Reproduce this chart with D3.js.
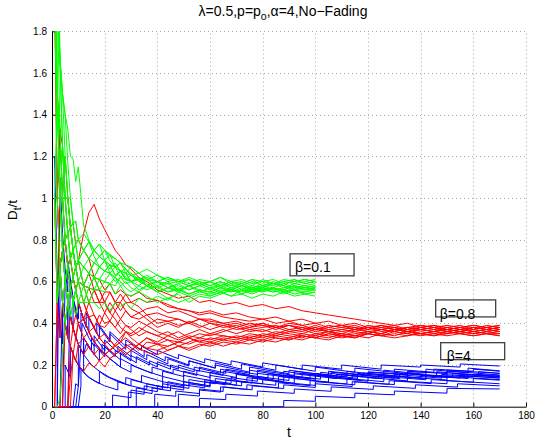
<!DOCTYPE html>
<html><head><meta charset="utf-8">
<script src="https://cdn.jsdelivr.net/npm/d3@7"></script>
<style>body{margin:0;background:#fff}svg{display:block}text{font-family:"Liberation Sans",Arial,Helvetica,sans-serif}</style>
</head><body><svg id="c" width="535" height="443"></svg>
<script>
// ---------- axis ticks ----------
const xTicks = [0,20,40,60,80,100,120,140,160,180];
const xTickLabels = ["0","20","40","60","80","100","120","140","160","180"];
const yTicks = [0,0.2,0.4,0.6,0.8,1,1.2,1.4,1.6,1.8];
const yTickLabels = ["0","0.2","0.4","0.6","0.8","1","1.2","1.4","1.6","1.8"];

// ---------- beta = 0.1 (green), sampled at tGreen ----------
const tGreen = [1,2,3,4,5,6,7,8,9,10, 12,14,16,18,20,22,24,26,28,30, 33,36, 40,44,48,52,56,60,64,68,72,76,80,84,88,92,96,100];
const green = [
 [3.0,2.0,1.67,1.5,1.4,1.33,1.2,1.19,1.08,1.15, 0.87,0.8,0.75,0.72,0.7,0.68,0.67,0.65,0.66,0.63, 0.61,0.62, 0.6,0.59,0.6,0.58,0.59,0.57,0.58,0.56,0.58,0.57,0.58,0.56,0.57,0.58,0.56,0.57],
 [2.0,1.5,1.0,1.25,1.0,0.83,0.71,0.75,0.67,0.7, 0.67,0.64,0.69,0.67,0.65,0.68,0.63,0.65,0.61,0.6, 0.62,0.58, 0.6,0.57,0.59,0.61,0.58,0.6,0.62,0.59,0.6,0.58,0.61,0.59,0.6,0.61,0.59,0.6],
 [3.0,1.5,1.33,1.0,0.8,0.83,0.86,0.75,0.78,0.7, 0.75,0.71,0.69,0.72,0.75,0.7,0.67,0.69,0.64,0.63, 0.6,0.61, 0.58,0.6,0.56,0.58,0.55,0.57,0.55,0.57,0.54,0.56,0.55,0.57,0.55,0.56,0.54,0.55],
 [1.0,0.5,0.67,0.5,0.6,0.5,0.57,0.5,0.56,0.5, 0.58,0.5,0.5,0.47,0.5,0.46,0.5,0.48,0.5,0.47, 0.52,0.5, 0.53,0.51,0.55,0.53,0.55,0.54,0.56,0.55,0.57,0.55,0.56,0.57,0.55,0.56,0.54,0.55],
 [0,0,0.04,0.25,0.4,0.5,0.43,0.5,0.56,0.6, 0.58,0.64,0.62,0.67,0.65,0.68,0.63,0.65,0.61,0.63, 0.6,0.58, 0.6,0.57,0.58,0.56,0.58,0.6,0.57,0.59,0.56,0.58,0.57,0.59,0.58,0.56,0.57,0.58],
 [4.0,2.0,1.67,1.5,1.2,1.0,1.0,0.88,0.89,0.8, 0.75,0.79,0.72,0.67,0.7,0.64,0.67,0.62,0.64,0.6, 0.58,0.61, 0.57,0.55,0.57,0.54,0.56,0.53,0.55,0.53,0.54,0.52,0.54,0.53,0.55,0.53,0.54,0.53],
 [2.0,1.0,1.0,0.75,0.8,0.67,0.71,0.62,0.67,0.6, 0.67,0.71,0.75,0.72,0.7,0.73,0.67,0.69,0.66,0.63, 0.64,0.61, 0.63,0.6,0.61,0.59,0.61,0.6,0.62,0.6,0.61,0.59,0.6,0.61,0.59,0.6,0.61,0.6],
 [3.0,2.0,1.33,1.0,1.0,0.83,0.71,0.75,0.67,0.6, 0.58,0.57,0.62,0.61,0.65,0.64,0.6,0.62,0.59,0.6, 0.56,0.58, 0.55,0.52,0.54,0.5,0.53,0.52,0.54,0.56,0.54,0.57,0.55,0.57,0.56,0.58,0.57,0.58],
 [2.0,1.5,1.0,1.0,0.8,0.83,0.71,0.75,0.78,0.8, 0.75,0.71,0.75,0.78,0.75,0.72,0.71,0.69,0.68,0.67, 0.64,0.66, 0.63,0.61,0.6,0.62,0.6,0.58,0.6,0.58,0.59,0.57,0.59,0.58,0.6,0.59,0.6,0.61],
 [1.0,0.5,0.67,0.75,0.6,0.67,0.57,0.62,0.56,0.6, 0.5,0.57,0.56,0.61,0.6,0.64,0.62,0.58,0.6,0.57, 0.55,0.58, 0.55,0.57,0.59,0.56,0.58,0.56,0.58,0.6,0.58,0.6,0.58,0.59,0.57,0.59,0.58,0.59],
 [5.0,2.5,1.67,1.25,1.0,0.83,0.86,0.75,0.67,0.7, 0.67,0.64,0.62,0.67,0.65,0.64,0.62,0.65,0.62,0.6, 0.61,0.58, 0.57,0.59,0.56,0.58,0.6,0.58,0.6,0.57,0.59,0.61,0.58,0.6,0.58,0.61,0.59,0.6],
 [2.0,1.5,1.0,0.75,0.6,0.5,0.57,0.62,0.67,0.7, 0.67,0.64,0.69,0.67,0.7,0.66,0.69,0.65,0.64,0.6, 0.62,0.59, 0.55,0.57,0.55,0.58,0.56,0.55,0.57,0.55,0.56,0.54,0.56,0.55,0.56,0.54,0.55,0.56],
 [3.0,1.5,1.0,1.0,1.2,1.0,0.86,0.88,0.78,0.7, 0.75,0.79,0.75,0.72,0.75,0.73,0.71,0.69,0.66,0.64, 0.61,0.63, 0.6,0.62,0.6,0.58,0.59,0.57,0.59,0.57,0.58,0.56,0.58,0.57,0.59,0.57,0.58,0.57],
 [1.0,1.0,0.67,0.5,0.4,0.5,0.43,0.5,0.44,0.5, 0.5,0.5,0.56,0.56,0.55,0.59,0.58,0.62,0.61,0.6, 0.61,0.58, 0.6,0.57,0.56,0.54,0.56,0.55,0.57,0.56,0.58,0.56,0.57,0.55,0.56,0.58,0.57,0.56],
 [2.0,2.0,1.67,1.25,1.0,1.0,0.86,0.75,0.67,0.7, 0.58,0.64,0.62,0.61,0.6,0.59,0.62,0.6,0.57,0.55, 0.58,0.56, 0.58,0.55,0.56,0.54,0.56,0.55,0.54,0.56,0.55,0.57,0.56,0.57,0.55,0.57,0.56,0.57],
 [4.0,2.5,1.67,1.5,1.4,1.17,1.0,0.88,0.89,0.8, 0.83,0.79,0.75,0.78,0.7,0.68,0.67,0.65,0.64,0.67, 0.64,0.61, 0.6,0.62,0.6,0.61,0.59,0.6,0.58,0.6,0.59,0.61,0.6,0.59,0.61,0.6,0.61,0.6],
 [1.0,1.5,1.0,0.75,0.6,0.67,0.57,0.5,0.56,0.5, 0.5,0.57,0.62,0.56,0.6,0.59,0.54,0.58,0.54,0.53, 0.55,0.53, 0.5,0.52,0.5,0.52,0.54,0.53,0.55,0.53,0.56,0.55,0.57,0.56,0.54,0.56,0.55,0.57]
];

// ---------- beta = 0.8 (red), sampled at tRed ----------
const tRed = [1,2,3,4,5,6,7,8,9,10, 12,14,16,18,20,22,24,26,28,30, 33,36,40,44,48,52,56,60,
  65,70,75,80,85,90,95,100,105,110,115,120,125,130,135,140,145,150,155,160,165,170];
const red = [
 [0,0.5,0.33,0.5,0.4,0.5,0.57,0.62,0.67,0.7, 0.83,0.93,0.97,0.9,0.85,0.8,0.75,0.72,0.68,0.66, 0.62,0.6,0.56,0.54,0.52,0.53,0.5,0.51, 0.49,0.5,0.48,0.49,0.47,0.48,0.46,0.45,0.44,0.43,0.42,0.41,0.4,0.39,0.4,0.38,0.39,0.38,0.39,0.37,0.38,0.37],
 [2.0,1.5,1.0,1.0,0.8,0.83,0.71,0.75,0.67,0.7, 0.67,0.64,0.62,0.61,0.56,0.59,0.54,0.56,0.54,0.53, 0.55,0.52,0.51,0.49,0.47,0.46,0.45,0.46, 0.44,0.45,0.43,0.42,0.43,0.41,0.42,0.4,0.41,0.39,0.4,0.38,0.39,0.37,0.38,0.37,0.38,0.36,0.37,0.38,0.37,0.38],
 [2.0,1.0,1.33,1.0,1.2,1.0,0.86,0.88,0.78,0.8, 0.75,0.71,0.62,0.56,0.5,0.55,0.5,0.46,0.5,0.47, 0.45,0.47,0.48,0.45,0.46,0.44,0.42,0.42, 0.4,0.41,0.39,0.4,0.38,0.39,0.37,0.38,0.36,0.37,0.38,0.36,0.37,0.38,0.36,0.37,0.36,0.37,0.38,0.36,0.37,0.36],
 [0,0,0,0,0.4,0.5,0.57,0.5,0.44,0.5, 0.42,0.5,0.44,0.39,0.45,0.41,0.38,0.42,0.39,0.37, 0.34,0.36,0.34,0.36,0.33,0.35,0.37,0.35, 0.37,0.35,0.37,0.36,0.38,0.36,0.37,0.35,0.36,0.34,0.35,0.36,0.35,0.37,0.36,0.35,0.36,0.35,0.36,0.35,0.36,0.35],
 [0,0,0,0,0,0,0.29,0.38,0.33,0.3, 0.25,0.29,0.25,0.22,0.19,0.23,0.25,0.27,0.25,0.27, 0.3,0.28,0.27,0.29,0.31,0.3,0.32,0.31, 0.33,0.32,0.34,0.33,0.35,0.34,0.33,0.35,0.34,0.33,0.34,0.35,0.34,0.35,0.34,0.36,0.35,0.34,0.35,0.36,0.35,0.35],
 [0,0,0,0,0,0,0,0.25,0.33,0.4, 0.42,0.36,0.31,0.33,0.3,0.32,0.29,0.31,0.33,0.31, 0.28,0.26,0.25,0.27,0.29,0.28,0.3,0.29, 0.31,0.3,0.32,0.31,0.33,0.32,0.34,0.33,0.35,0.34,0.33,0.35,0.34,0.36,0.35,0.34,0.35,0.36,0.35,0.34,0.35,0.34],
 [1.0,1.0,1.0,1.0,1.0,0.83,0.86,0.75,0.67,0.6, 0.58,0.5,0.56,0.5,0.45,0.5,0.46,0.5,0.46,0.43, 0.45,0.42,0.38,0.4,0.38,0.41,0.39,0.37, 0.39,0.37,0.38,0.4,0.38,0.39,0.37,0.39,0.37,0.38,0.39,0.37,0.38,0.39,0.37,0.38,0.39,0.37,0.38,0.39,0.38,0.39],
 [1.0,0.5,0.67,0.75,0.6,0.67,0.57,0.62,0.56,0.6, 0.5,0.43,0.38,0.33,0.35,0.32,0.29,0.31,0.36,0.34, 0.36,0.39,0.36,0.34,0.36,0.33,0.35,0.34, 0.36,0.38,0.36,0.37,0.35,0.37,0.36,0.38,0.36,0.37,0.36,0.38,0.37,0.36,0.38,0.37,0.38,0.37,0.36,0.37,0.38,0.37],
 [2.0,1.0,0.67,0.5,0.6,0.5,0.43,0.38,0.44,0.4, 0.33,0.36,0.31,0.28,0.25,0.27,0.3,0.33,0.36,0.35, 0.38,0.36,0.34,0.32,0.31,0.33,0.31,0.33, 0.32,0.34,0.33,0.35,0.34,0.36,0.35,0.37,0.36,0.35,0.37,0.36,0.35,0.37,0.36,0.37,0.36,0.38,0.37,0.36,0.37,0.36],
 [1.0,1.0,1.33,1.25,1.0,1.0,0.86,0.75,0.67,0.7, 0.58,0.57,0.5,0.5,0.5,0.45,0.5,0.54,0.5,0.5, 0.52,0.5,0.51,0.48,0.47,0.46,0.44,0.45, 0.43,0.42,0.41,0.42,0.4,0.41,0.39,0.4,0.38,0.39,0.37,0.38,0.37,0.38,0.37,0.38,0.37,0.38,0.37,0.38,0.37,0.38],
 [0,0,0,0,0,0,0.14,0.25,0.22,0.3, 0.33,0.29,0.25,0.28,0.25,0.27,0.25,0.27,0.29,0.27, 0.3,0.33,0.31,0.34,0.32,0.34,0.33,0.35, 0.34,0.33,0.35,0.34,0.36,0.35,0.34,0.33,0.35,0.34,0.36,0.35,0.37,0.36,0.35,0.37,0.36,0.37,0.36,0.38,0.37,0.38],
 [1.0,0.5,1.0,0.75,0.8,0.67,0.71,0.62,0.56,0.5, 0.5,0.43,0.44,0.39,0.38,0.41,0.38,0.35,0.39,0.38, 0.41,0.39,0.42,0.41,0.42,0.4,0.42,0.41, 0.4,0.38,0.4,0.39,0.37,0.39,0.38,0.37,0.39,0.38,0.37,0.39,0.38,0.37,0.38,0.39,0.38,0.39,0.38,0.37,0.39,0.38],
 [1.0,1.0,0.67,0.5,0.4,0.33,0.29,0.25,0.22,0.2, 0.17,0.21,0.19,0.22,0.25,0.23,0.25,0.27,0.25,0.27, 0.3,0.28,0.3,0.29,0.31,0.33,0.31,0.3, 0.32,0.31,0.33,0.32,0.34,0.33,0.35,0.34,0.36,0.35,0.34,0.36,0.35,0.37,0.36,0.35,0.36,0.37,0.36,0.35,0.36,0.37],
 [2.0,1.5,1.33,1.0,0.8,0.67,0.57,0.62,0.56,0.6, 0.58,0.57,0.56,0.5,0.55,0.55,0.5,0.5,0.54,0.5, 0.48,0.44,0.45,0.43,0.42,0.4,0.38,0.4, 0.38,0.39,0.37,0.38,0.39,0.37,0.38,0.36,0.37,0.36,0.37,0.38,0.36,0.37,0.36,0.38,0.37,0.36,0.37,0.36,0.37,0.36],
 [0,0,0,0.25,0.4,0.33,0.43,0.38,0.33,0.4, 0.42,0.36,0.38,0.33,0.3,0.27,0.29,0.27,0.29,0.3, 0.27,0.31,0.3,0.32,0.29,0.31,0.33,0.32, 0.34,0.33,0.32,0.34,0.33,0.32,0.34,0.33,0.32,0.34,0.33,0.35,0.34,0.33,0.34,0.35,0.34,0.36,0.35,0.34,0.35,0.34],
 [1.0,1.0,0.67,0.75,0.8,0.67,0.57,0.5,0.56,0.5, 0.42,0.43,0.38,0.44,0.4,0.41,0.46,0.42,0.46,0.43, 0.42,0.44,0.4,0.41,0.39,0.4,0.42,0.4, 0.39,0.4,0.38,0.39,0.38,0.4,0.39,0.37,0.38,0.39,0.38,0.37,0.39,0.38,0.37,0.39,0.38,0.37,0.38,0.39,0.38,0.39],
 [0,0.5,0.67,0.75,0.6,0.67,0.71,0.62,0.67,0.6, 0.58,0.64,0.56,0.56,0.5,0.45,0.42,0.38,0.36,0.33, 0.3,0.33,0.3,0.27,0.29,0.27,0.29,0.31, 0.29,0.31,0.3,0.32,0.31,0.33,0.32,0.34,0.33,0.35,0.34,0.33,0.35,0.34,0.36,0.35,0.34,0.35,0.36,0.35,0.36,0.35]
];

// ---------- beta = 4 (blue), [t, D_t/t] points (steps) ----------
const blue = [
 [[1,1.2],[2,0.6],[3,0.4],[4,0.3],[4,0.5],[5,0.4],[6,0.33],[6,0.5],[8,0.375],[8,0.5],[10,0.4],[11,0.36],[11,0.45],[14,0.36],[14,0.43],[18,0.33],[18,0.39],[22,0.32],[22,0.36],[28,0.29],[28,0.32],[34,0.27],[34,0.29],[40,0.25],[40,0.27],[48,0.23],[48,0.25],[58,0.21],[58,0.23],[68,0.2],[68,0.22],[80,0.19],[80,0.21],[95,0.18],[95,0.2],[110,0.18],[110,0.2],[125,0.18],[125,0.2],[140,0.19],[140,0.2],[155,0.19],[155,0.205],[170,0.195]],
 [[1,0],[9,0],[10,0.1],[11.5,0.4],[14,0.33],[16,0.29],[16,0.34],[20,0.27],[20,0.32],[25,0.26],[25,0.29],[30,0.24],[30,0.27],[36,0.225],[36,0.25],[44,0.205],[44,0.23],[52,0.195],[52,0.22],[62,0.185],[62,0.21],[72,0.18],[72,0.205],[85,0.175],[85,0.2],[100,0.17],[100,0.19],[115,0.165],[115,0.185],[130,0.165],[130,0.18],[145,0.165],[145,0.18],[160,0.17],[160,0.18],[170,0.17]],
 [[1,0],[2,0],[3,1.1],[4,0.83],[5,0.66],[6,0.55],[6,0.7],[8,0.52],[10,0.42],[10,0.5],[13,0.38],[13,0.45],[17,0.35],[17,0.4],[22,0.31],[22,0.35],[28,0.275],[28,0.3],[35,0.24],[35,0.27],[43,0.22],[43,0.24],[52,0.2],[52,0.22],[62,0.185],[62,0.2],[75,0.166],[75,0.19],[90,0.158],[90,0.175],[105,0.15],[105,0.17],[120,0.15],[120,0.165],[135,0.153],[135,0.168],[150,0.16],[150,0.172],[170,0.152]],
 [[1,0],[4,0],[5,0.6],[6,0.5],[8,0.375],[10,0.3],[12,0.25],[15,0.2],[20,0.15],[25,0.12],[30,0.1],[30,0.13],[36,0.11],[42,0.093],[42,0.12],[50,0.1],[50,0.12],[60,0.1],[60,0.12],[72,0.1],[72,0.12],[85,0.103],[85,0.12],[100,0.102],[100,0.12],[115,0.105],[115,0.12],[130,0.106],[130,0.125],[150,0.11],[150,0.125],[170,0.11]],
 [[1,0],[6,0],[7,0.6],[8,0.52],[10,0.42],[10,0.5],[12,0.42],[15,0.33],[18,0.28],[22,0.23],[26,0.19],[30,0.165],[30,0.2],[36,0.17],[42,0.145],[42,0.17],[50,0.145],[50,0.17],[60,0.14],[60,0.165],[70,0.14],[70,0.16],[82,0.138],[82,0.158],[95,0.14],[95,0.16],[110,0.138],[110,0.155],[125,0.136],[125,0.152],[140,0.136],[140,0.15],[155,0.137],[155,0.15],[170,0.138]],
 [[1,0],[8,0],[9,0.11],[10,0.1],[10,0.2],[12,0.17],[12,0.25],[13,0.3],[16,0.25],[16,0.3],[20,0.24],[20,0.29],[26,0.225],[26,0.26],[32,0.21],[32,0.24],[40,0.19],[40,0.215],[48,0.18],[48,0.2],[56,0.17],[56,0.19],[66,0.16],[66,0.18],[78,0.155],[78,0.175],[92,0.15],[92,0.17],[106,0.148],[106,0.165],[120,0.15],[120,0.167],[135,0.155],[135,0.17],[150,0.16],[150,0.175],[170,0.16]],
 [[1,0],[23,0],[23,0.056],[30,0.043],[30,0.08],[38,0.063],[38,0.09],[45,0.076],[45,0.1],[52,0.088],[52,0.11],[60,0.095],[60,0.12],[70,0.103],[70,0.125],[80,0.11],[80,0.13],[92,0.113],[92,0.135],[105,0.118],[105,0.14],[120,0.122],[120,0.14],[135,0.124],[135,0.142],[150,0.128],[150,0.145],[170,0.13]],
 [[1,0],[29,0],[29,0.07],[35,0.06],[35,0.1],[42,0.083],[42,0.11],[50,0.093],[50,0.12],[58,0.103],[58,0.13],[68,0.111],[68,0.14],[78,0.122],[78,0.145],[90,0.126],[90,0.15],[102,0.132],[102,0.155],[116,0.136],[116,0.16],[130,0.143],[130,0.165],[146,0.147],[146,0.168],[162,0.15],[162,0.168],[170,0.16]],
 [[1,0],[32,0],[32,0.09],[40,0.072],[40,0.1],[50,0.08],[50,0.105],[58,0.09],[58,0.12],[66,0.105],[66,0.13],[76,0.113],[76,0.14],[88,0.121],[88,0.15],[100,0.132],[100,0.16],[112,0.143],[112,0.17],[126,0.151],[126,0.175],[142,0.155],[142,0.18],[158,0.162],[158,0.185],[170,0.172]],
 [[1,0],[39,0],[39,0.06],[47,0.05],[47,0.075],[56,0.063],[56,0.085],[65,0.073],[65,0.095],[76,0.081],[76,0.1],[88,0.087],[88,0.105],[100,0.092],[100,0.11],[114,0.097],[114,0.12],[128,0.107],[128,0.125],[144,0.111],[144,0.13],[160,0.117],[160,0.135],[170,0.127]],
 [[1,0],[48,0],[48,0.06],[56,0.051],[56,0.08],[64,0.07],[64,0.095],[74,0.082],[74,0.105],[86,0.09],[86,0.115],[98,0.101],[98,0.125],[112,0.109],[112,0.135],[126,0.12],[126,0.145],[142,0.129],[142,0.15],[158,0.135],[158,0.155],[170,0.145]],
 [[1,0],[56,0],[56,0.04],[66,0.034],[66,0.06],[78,0.051],[78,0.075],[92,0.064],[92,0.085],[106,0.074],[106,0.095],[122,0.083],[122,0.1],[138,0.088],[138,0.105],[154,0.094],[154,0.11],[170,0.1]],
 [[1,0],[88,0],[88,0.03],[100,0.026],[100,0.05],[115,0.043],[115,0.065],[130,0.057],[130,0.075],[150,0.065],[150,0.088],[170,0.085]],
 [[1,0],[3,0],[4,0.5],[5,0.4],[6,0.33],[6,0.5],[8,0.375],[10,0.3],[12,0.25],[12,0.33],[15,0.27],[18,0.22],[18,0.28],[22,0.23],[26,0.19],[26,0.23],[32,0.19],[38,0.16],[38,0.19],[46,0.16],[46,0.18],[55,0.15],[55,0.175],[65,0.15],[65,0.17],[78,0.14],[78,0.16],[92,0.138],[92,0.158],[108,0.135],[108,0.155],[124,0.135],[124,0.155],[142,0.135],[142,0.152],[160,0.143],[160,0.155],[170,0.15]],
 [[1,0],[2,0],[2,0.5],[3,0.33],[3,0.67],[4,0.5],[5,0.4],[6,0.33],[8,0.25],[10,0.2],[10,0.3],[12,0.25],[12,0.33],[15,0.27],[15,0.33],[19,0.26],[19,0.3],[24,0.24],[24,0.27],[30,0.22],[30,0.245],[37,0.2],[37,0.22],[45,0.18],[45,0.2],[54,0.167],[54,0.19],[64,0.16],[64,0.18],[75,0.154],[75,0.175],[88,0.15],[88,0.17],[102,0.146],[102,0.165],[118,0.143],[118,0.162],[135,0.142],[135,0.16],[152,0.142],[152,0.158],[170,0.142]],
 [[1,0],[5,0],[5,0.2],[7,0.14],[7,0.29],[9,0.22],[11,0.18],[14,0.14],[18,0.11],[18,0.17],[22,0.14],[28,0.11],[28,0.14],[34,0.118],[34,0.15],[42,0.12],[42,0.145],[50,0.12],[50,0.15],[60,0.125],[60,0.15],[70,0.13],[70,0.155],[84,0.13],[84,0.155],[98,0.133],[98,0.155],[114,0.134],[114,0.155],[130,0.136],[130,0.155],[148,0.137],[148,0.155],[170,0.137]],
 [[1,0],[10,0],[11,0.1],[11,0.18],[13,0.15],[16,0.125],[20,0.1],[25,0.08],[25,0.12],[30,0.1],[36,0.083],[36,0.11],[44,0.09],[44,0.12],[52,0.1],[52,0.13],[62,0.11],[62,0.135],[74,0.115],[74,0.14],[86,0.12],[86,0.145],[100,0.125],[100,0.15],[116,0.13],[116,0.155],[132,0.135],[132,0.16],[150,0.14],[150,0.163],[170,0.145]]
];

// ---------- annotations ----------
const labels = [
  {text:"β=0.1", t:90.4, v:0.733, w:64, h:22, dx:5, base:-4},
  {text:"β=0.8", t:145.7, v:0.512, w:60, h:17, dx:4, base:2},
  {text:"β=4", t:147.6, v:0.307, w:64, h:17, dx:6, base:1}
];

const svg = d3.select("#c");
const x = d3.scaleLinear().domain([0,180]).range([52,526]);
const y = d3.scaleLinear().domain([0,1.8]).range([406.7,31.3]);

// grid
const grid = svg.append("g").attr("stroke","#a8a8a8").attr("stroke-width",1).attr("stroke-dasharray","1,3");
grid.selectAll("line.v").data(xTicks.slice(1)).join("line")
  .attr("x1",d=>Math.round(x(d))+0.5).attr("x2",d=>Math.round(x(d))+0.5)
  .attr("y1",y(0)).attr("y2",y(1.8));
grid.selectAll("line.h").data(yTicks.slice(1)).join("line")
  .attr("y1",d=>Math.round(y(d))+0.5).attr("y2",d=>Math.round(y(d))+0.5)
  .attr("x1",x(0)).attr("x2",x(180));

// axes
const fmtX = d=>xTickLabels[xTicks.indexOf(d)];
const fmtY = d=>yTickLabels[yTicks.indexOf(d)];
const gx = svg.append("g").attr("transform",`translate(0,${y(0)})`)
  .call(d3.axisBottom(x).tickValues(xTicks).tickFormat(fmtX).tickSize(-4).tickSizeOuter(0).tickPadding(5));
const gy = svg.append("g").attr("transform",`translate(${x(0)},0)`)
  .call(d3.axisLeft(y).tickValues(yTicks).tickFormat(fmtY).tickSize(-4).tickSizeOuter(0).tickPadding(5));
[gx,gy].forEach(g=>{
  g.attr("font-family","Liberation Sans, Arial, sans-serif").attr("font-size",10);
  g.selectAll("text").attr("fill","#000");
  g.select(".domain").attr("stroke","#000");
  g.selectAll(".tick line").attr("stroke","#000");
});

// clip
svg.append("clipPath").attr("id","clip").append("rect")
  .attr("x",x(0)).attr("y",y(1.8)).attr("width",x(180)-x(0)).attr("height",y(0)-y(1.8)+1.5);
const plot = svg.append("g").attr("clip-path","url(#clip)");

const lineGrid = tg => d3.line().x((d,i)=>x(tg[i])).y(d=>y(d));
const linePairs = d3.line().x(d=>x(d[0])).y(d=>y(d[1]));

plot.selectAll("path.b").data(blue).join("path").attr("class","b")
  .attr("d",linePairs).attr("fill","none").attr("stroke","#0000ff").attr("stroke-width",1);
plot.selectAll("path.r").data(red).join("path").attr("class","r")
  .attr("d",lineGrid(tRed)).attr("fill","none").attr("stroke","#ff0000").attr("stroke-width",1);
plot.selectAll("path.g").data(green).join("path").attr("class","g")
  .attr("d",lineGrid(tGreen)).attr("fill","none").attr("stroke","#00ff00").attr("stroke-width",1);

// annotation boxes
const ann = svg.append("g");
labels.forEach(l=>{
  const bx = x(l.t), by = y(l.v);
  ann.append("rect").attr("x",bx).attr("y",by).attr("width",l.w).attr("height",l.h)
    .attr("fill","none").attr("stroke","#404040").attr("stroke-width",1.3);
  ann.append("text").attr("x",bx+l.dx).attr("y",by+l.h+l.base).attr("font-size",14).attr("fill","#000").text(l.text);
});

// title
const title = svg.append("text").attr("x",283).attr("y",16).attr("text-anchor","middle")
  .attr("font-size",14).attr("fill","#000");
title.append("tspan").text("λ=0.5,p=p");
title.append("tspan").attr("font-size",10.5).attr("dy",4).text("o");
title.append("tspan").attr("dy",-4).text(",α=4,No−Fading");

// x label
svg.append("text").attr("x",289).attr("y",437).attr("text-anchor","middle")
  .attr("font-size",14).attr("fill","#000").text("t");

// y label
const yl = svg.append("text").attr("transform","translate(17,210) rotate(-90)")
  .attr("text-anchor","middle").attr("font-size",13.5).attr("fill","#000");
yl.append("tspan").text("D");
yl.append("tspan").attr("font-size",10).attr("dy",4).text("t");
yl.append("tspan").attr("dy",-4).text("/t");
</script></body></html>
